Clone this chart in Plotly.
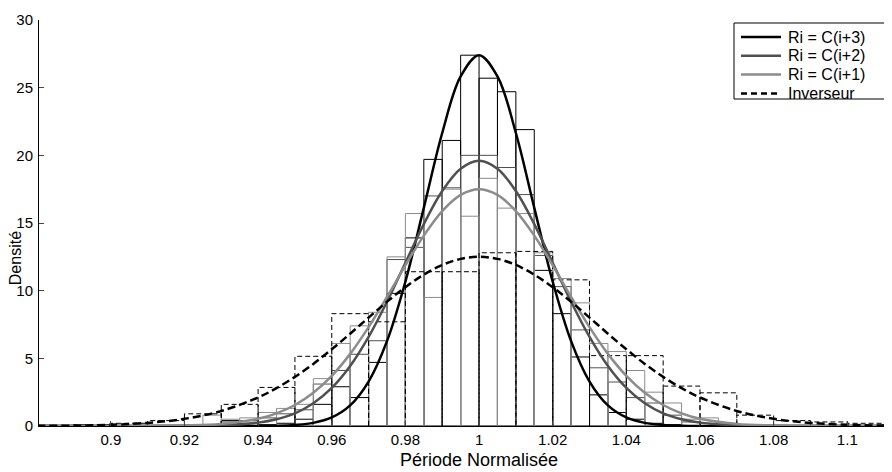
import numpy as np
import plotly.graph_objects as go

# histogrammes Ri : classes de largeur 0.005, bord gauche de 0.920 a 1.075
ri_left = np.round(np.arange(0.920, 1.0751, 0.005), 3)
ri_width = 0.005

dens_c3 = [0, 0, 0.4, 0.4, 0.1, 0.2, 0.5, 1.6, 2.9, 2.1, 4.7, 9.8, 13.9, 19.7, 21.1, 27.4,
           25.7, 24.7, 21.9, 11.5, 8.3, 5.1, 2.3, 1.0, 0.5, 0.2, 0.1, 0, 0, 0, 0, 0]
dens_c2 = [0, 0.1, 0.3, 0.4, 0.6, 0.9, 1.2, 3.1, 4.1, 5.3, 6.3, 12.3, 13.2, 17.0, 17.6, 20.0,
           20.0, 19.1, 17.1, 12.6, 10.3, 7.1, 4.3, 3.25, 2.1, 1.7, 0.8, 0.3, 0.2, 0.1, 0, 0]
dens_c1 = [0.1, 0.8, 0.5, 0.6, 1.0, 1.3, 1.6, 3.5, 6.1, 7.4, 8.4, 12.5, 15.7, 9.5, 17.5, 15.5,
           18.3, 16.1, 15.7, 12.8, 10.9, 9.1, 6.1, 5.5, 4.1, 2.5, 1.7, 0.5, 0.6, 0.2, 0.1, 0]

# histogramme inverseur : classes de largeur 0.01, bord gauche de 0.88 a 1.10
inv_left = np.round(np.arange(0.88, 1.1001, 0.01), 2)
inv_width = 0.01
dens_inv = [0.05, 0.1, 0.2, 0.4, 0.9, 1.6, 2.85, 5.15, 8.3, 7.7, 11.4, 11.4, 12.8, 12.9,
            10.8, 5.2, 5.2, 2.95, 2.45, 0.8, 0.4, 0.3, 0.2]

# courbes ajustees
x_fit = [0.88, 0.89, 0.90, 0.91, 0.92, 0.93, 0.94, 0.945, 0.95, 0.955, 0.96, 0.965, 0.97,
         0.975, 0.98, 0.985, 0.99, 0.995, 1.0, 1.005, 1.01, 1.015, 1.02, 1.025, 1.03,
         1.035, 1.04, 1.045, 1.05, 1.055, 1.06, 1.07, 1.08, 1.09, 1.10, 1.11, 1.12]
fit_c3 = [0, 0, 0, 0, 0, 0, 0, 0.02, 0.08, 0.23, 0.63, 1.52, 3.28, 6.27, 10.67, 16.12,
          21.65, 25.83, 27.4, 25.83, 21.65, 16.12, 10.67, 6.27, 3.28, 1.52, 0.63, 0.23,
          0.08, 0.02, 0, 0, 0, 0, 0, 0, 0]
fit_c2 = [0, 0, 0, 0, 0.01, 0.05, 0.25, 0.5, 0.94, 1.68, 2.81, 4.43, 6.58, 9.18, 12.06,
          14.92, 17.36, 19.01, 19.6, 19.01, 17.36, 14.92, 12.06, 9.18, 6.58, 4.43, 2.81,
          1.68, 0.94, 0.5, 0.25, 0.05, 0.01, 0, 0, 0, 0]
fit_c1 = [0, 0, 0, 0.01, 0.04, 0.15, 0.53, 0.93, 1.55, 2.45, 3.70, 5.33, 7.31, 9.54, 11.87,
          14.07, 15.88, 17.08, 17.5, 17.08, 15.88, 14.07, 11.87, 9.54, 7.31, 5.33, 3.70,
          2.45, 1.55, 0.93, 0.53, 0.15, 0.04, 0.01, 0, 0, 0]
fit_inv = [0.01, 0.03, 0.09, 0.23, 0.53, 1.11, 2.11, 2.80, 3.63, 4.59, 5.67, 6.82, 8.01,
           9.18, 10.26, 11.18, 11.90, 12.35, 12.5, 12.35, 11.90, 11.18, 10.26, 9.18, 8.01,
           6.82, 5.67, 4.59, 3.63, 2.80, 2.11, 1.11, 0.53, 0.23, 0.09, 0.03, 0.01]

x_ticks = [0.9, 0.92, 0.94, 0.96, 0.98, 1.0, 1.02, 1.04, 1.06, 1.08, 1.1]
legende = ["Ri = C(i+3)", "Ri = C(i+2)", "Ri = C(i+1)", "Inverseur"]

noir = "#000000"
gris_fonce = "#505050"
gris_clair = "#8c8c8c"
police = "Liberation Sans, Arial, sans-serif"

W, H = 892, 472
M = dict(l=31, r=3, t=12, b=54)

fig = go.Figure()

# barres (contours seuls)
for dens, col in [(dens_c3, noir), (dens_c2, gris_fonce), (dens_c1, gris_clair)]:
    fig.add_trace(go.Bar(
        x=ri_left + ri_width / 2, y=dens, width=ri_width,
        marker=dict(color="rgba(0,0,0,0)", line=dict(color=col, width=1)),
        showlegend=False, hoverinfo="skip"))

# barres en pointilles de l'inverseur, tracees comme contours
bx, by = [], []
for x0, h in zip(inv_left, dens_inv):
    x1 = x0 + inv_width
    bx += [x0, x0, x1, x1, None]
    by += [0, h, h, 0, None]
fig.add_trace(go.Scatter(x=bx, y=by, mode="lines",
                         line=dict(color=noir, width=1, dash="5px,3px"),
                         showlegend=False, hoverinfo="skip"))

# courbes
styles = [(fit_c3, noir, "solid"), (fit_c2, gris_fonce, "solid"),
          (fit_c1, gris_clair, "solid"), (fit_inv, noir, "8px,4px")]
for (yy, col, dash), nom in zip(styles, legende):
    fig.add_trace(go.Scatter(x=x_fit, y=yy, mode="lines", name=nom, showlegend=False,
                             line=dict(color=col, width=2.5, dash=dash, shape="spline")))

# legende dessinee a la main (cadre, traits, textes) en haut a droite
pw, ph = W - M["l"] - M["r"], H - M["t"] - M["b"]
px = lambda v: (v - M["l"]) / pw
py = lambda v: (H - M["b"] - v) / ph
fig.add_shape(type="rect", xref="paper", yref="paper",
              x0=px(726), x1=px(888), y0=py(91), y1=py(15),
              line=dict(color="black", width=1), fillcolor="white", layer="above")
for i, ((yy, col, dash), nom) in enumerate(zip(styles, legende)):
    yl = py(29 + 18.8 * i)
    fig.add_shape(type="line", xref="paper", yref="paper",
                  x0=px(733), x1=px(773), y0=yl, y1=yl, layer="above",
                  line=dict(color=col, width=2.5, dash="6px,4px" if dash != "solid" else "solid"))
    fig.add_annotation(x=px(778), y=yl, xref="paper", yref="paper", text=nom,
                       showarrow=False, xanchor="left", yanchor="middle",
                       font=dict(size=16, family=police, color="black"))

# titres des axes
fig.add_annotation(x=1.0, y=py(452), xref="x", yref="paper", text="Période Normalisée",
                   showarrow=False, xanchor="center", yanchor="middle",
                   font=dict(size=18, family=police, color="black"))
fig.add_annotation(x=px(7), y=12.4, xref="paper", yref="y", text="Densité", textangle=-90,
                   showarrow=False, xanchor="center", yanchor="middle",
                   font=dict(size=16, family=police, color="black"))

fig.update_layout(
    width=W, height=H, margin=M,
    plot_bgcolor="white", paper_bgcolor="white",
    barmode="overlay", showlegend=False,
    font=dict(family=police, size=15, color="black"),
)
fig.update_xaxes(range=[0.8805, 1.1135], tickvals=x_ticks, ticktext=["%g" % v for v in x_ticks],
                 ticks="inside", ticklen=5,
                 showline=True, linecolor="black", linewidth=1, showgrid=False,
                 zeroline=False, automargin=False)
fig.update_yaxes(range=[0, 30], dtick=5, ticks="inside", ticklen=5, ticklabelstandoff=2,
                 showline=True, linecolor="black", linewidth=1, showgrid=False,
                 zeroline=False, automargin=False)

fig.write_html("out.html")
